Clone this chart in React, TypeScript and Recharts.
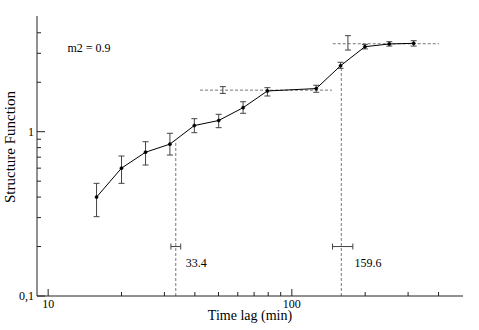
import React from 'react';
import {
  ComposedChart,
  Line,
  XAxis,
  YAxis,
  ErrorBar,
  Scatter,
  ReferenceLine,
  ReferenceDot,
} from 'recharts';

// ---- data ----
const lags = [15.8, 20, 25.1, 31.6, 39.8, 50.1, 63.1, 79.4, 125.9, 158.5, 199.5, 251.2, 316.2];
const sfValues = [0.4, 0.6, 0.75, 0.84, 1.09, 1.17, 1.4, 1.77, 1.83, 2.52, 3.29, 3.42, 3.45];
const sfLower = [0.304, 0.485, 0.627, 0.721, 0.986, 1.058, 1.294, 1.649, 1.737, 2.43, 3.19, 3.32, 3.32];
const sfUpper = [0.485, 0.711, 0.869, 0.978, 1.2, 1.276, 1.522, 1.853, 1.917, 2.645, 3.4, 3.53, 3.58];

const plateauLags = [52.1, 169.9];
const plateauValues = [1.79, 3.46];
const plateauLower = [1.71, 3.14];
const plateauUpper = [1.88, 3.84];

const plateauLineStart = [42.0, 147.2];
const plateauLineEnd = [146, 401.8];
const plateauLineLevel = [1.79, 3.43];

const breakLags = [33.4, 159.6];
const breakTops = [0.88, 2.49];
const breakLower = [31.9, 146.9];
const breakUpper = [35.0, 178];
const breakMarkerLevel = 0.2;
const breakLabels = ['33.4', '159.6'];
const breakLabelX = [36.7, 180.7];
const breakLabelY = 0.16;

const noteText = 'm2 = 0.9';
const noteX = 12.0;
const noteY = 3.22;

const xTicks = [10, 20, 30, 40, 50, 60, 70, 80, 90, 100, 200, 300, 400];
const xLabeledTicks = [10, 100];
const xTickLabels = ['10', '100'];
const yTicks = [0.1, 0.2, 0.3, 0.4, 0.5, 0.6, 0.7, 0.8, 0.9, 1, 2, 3, 4];
const yLabeledTicks = [0.1, 1];
const yTickLabels = ['0,1', '1'];
const xDomain = [9, 504];
const yDomain = [0.1, 5.06];

const xTitle = 'Time lag (min)';
const yTitle = 'Structure Function';

// ---- build series tables ----
const mainData = lags.map((x, i) => ({
  x,
  y: sfValues[i],
  err: [sfValues[i] - sfLower[i], sfUpper[i] - sfValues[i]],
}));
const plateauData = plateauLags.map((x, i) => ({
  x,
  y: plateauValues[i],
  err: [plateauValues[i] - plateauLower[i], plateauUpper[i] - plateauValues[i]],
}));
const breakData = breakLags.map((x, i) => ({
  x,
  y: breakMarkerLevel,
  ex: [x - breakLower[i], breakUpper[i] - x],
}));

const FONT = 'Liberation Serif';
const AXIS = '#222';
const ERR = '#444';
const DASH = '#777';

const txt = (size: number) => ({ fontFamily: FONT, fontSize: size, fill: '#000' });

const isMajorX = (v: number) => xLabeledTicks.indexOf(v) >= 0;
const isMajorY = (v: number) => yLabeledTicks.indexOf(v) >= 0;

const BottomTick = (props: any) => {
  const { x, y, payload } = props;
  const v = payload.value;
  const idx = xLabeledTicks.indexOf(v);
  return (
    <g>
      <line x1={x} x2={x} y1={y} y2={y - (idx >= 0 ? 7 : 4)} stroke={AXIS} />
      {idx >= 0 && (
        <text x={x} y={y + 11.5} textAnchor="middle" style={txt(12)}>
          {xTickLabels[idx]}
        </text>
      )}
    </g>
  );
};

const TopTick = (props: any) => {
  const { x, y, payload } = props;
  const v = payload.value;
  return <line x1={x} x2={x} y1={y} y2={y + (isMajorX(v) ? 7 : 4)} stroke={AXIS} />;
};

const LeftTick = (props: any) => {
  const { x, y, payload } = props;
  const v = payload.value;
  const idx = yLabeledTicks.indexOf(v);
  return (
    <g>
      <line x1={x} x2={x + (idx >= 0 ? 8 : 4)} y1={y} y2={y} stroke={AXIS} />
      {idx >= 0 && (
        <text x={x - 3} y={y} dy="0.35em" textAnchor="end" style={txt(12)}>
          {yTickLabels[idx]}
        </text>
      )}
    </g>
  );
};

const RightTick = (props: any) => {
  const { x, y, payload } = props;
  const v = payload.value;
  return <line x1={x} x2={x - (isMajorY(v) ? 8 : 4)} y1={y} y2={y} stroke={AXIS} />;
};

const Empty = () => <g />;

export default function App() {
  return (
    <div style={{ position: 'absolute', left: 0, top: 0, width: 479, height: 330, background: '#fff' }}>
      <ComposedChart width={479} height={330} margin={{ top: 16, right: 16, bottom: 0, left: 0 }}>
        <XAxis
          dataKey="x"
          type="number"
          scale="log"
          domain={xDomain}
          allowDataOverflow
          ticks={xTicks}
          interval={0}
          tickLine={false}
          tickSize={0}
          tickMargin={0}
          axisLine={{ stroke: AXIS }}
          height={34}
          tick={<BottomTick />}
          label={(p: any) => {
            const vb = p.viewBox || { x: 37, width: 426 };
            return (
              <text x={vb.x + vb.width / 2} y={320} textAnchor="middle" style={txt(14)}>
                {xTitle}
              </text>
            );
          }}
        />
        <XAxis
          xAxisId="top"
          orientation="top"
          type="number"
          scale="log"
          domain={xDomain}
          allowDataOverflow
          ticks={xTicks}
          interval={0}
          tickLine={false}
          tickSize={0}
          tickMargin={0}
          axisLine={{ stroke: AXIS }}
          height={0}
          tick={<TopTick />}
        />
        <YAxis
          dataKey="y"
          type="number"
          scale="log"
          domain={yDomain}
          allowDataOverflow
          ticks={yTicks}
          interval={0}
          tickLine={false}
          tickSize={0}
          tickMargin={0}
          axisLine={{ stroke: AXIS }}
          width={37}
          tick={<LeftTick />}
          label={(p: any) => (
            <text transform="translate(15,147) rotate(-90)" textAnchor="middle" style={txt(15)}>
              {yTitle}
            </text>
          )}
        />
        <YAxis
          yAxisId="right"
          orientation="right"
          type="number"
          scale="log"
          domain={yDomain}
          allowDataOverflow
          ticks={yTicks}
          interval={0}
          tickLine={false}
          tickSize={0}
          tickMargin={0}
          axisLine={{ stroke: AXIS }}
          width={0}
          tick={<RightTick />}
        />

        {plateauLineLevel.map((lv, i) => (
          <ReferenceLine
            key={'pl' + i}
            segment={[
              { x: plateauLineStart[i], y: lv },
              { x: plateauLineEnd[i], y: lv },
            ]}
            stroke={DASH}
            strokeDasharray="3 2"
            ifOverflow="visible"
          />
        ))}
        {breakLags.map((bx, i) => (
          <ReferenceLine
            key={'bl' + i}
            segment={[
              { x: bx, y: yDomain[0] },
              { x: bx, y: breakTops[i] },
            ]}
            stroke={DASH}
            strokeDasharray="3 2"
            ifOverflow="visible"
          />
        ))}

        <Scatter data={plateauData} shape={<Empty />} isAnimationActive={false}>
          <ErrorBar dataKey="err" direction="y" width={3} stroke={ERR} strokeWidth={1} />
        </Scatter>
        <Scatter data={breakData} shape={<Empty />} isAnimationActive={false}>
          <ErrorBar dataKey="ex" direction="x" width={3} stroke={ERR} strokeWidth={1} />
        </Scatter>

        <Line
          data={mainData}
          dataKey="y"
          type="linear"
          stroke="#000"
          strokeWidth={1}
          dot={{ r: 1.6, fill: '#000', stroke: '#000', strokeWidth: 0.5 }}
          isAnimationActive={false}
        >
          <ErrorBar dataKey="err" direction="y" width={3} stroke={ERR} strokeWidth={1} />
        </Line>

        {breakLabels.map((t, i) => (
          <ReferenceDot
            key={'lab' + i}
            x={breakLabelX[i]}
            y={breakLabelY}
            r={0}
            ifOverflow="visible"
            shape={(p: any) => (
              <text x={p.cx} y={p.cy} dy="0.35em" textAnchor="start" style={txt(12)}>
                {t}
              </text>
            )}
          />
        ))}
        <ReferenceDot
          x={noteX}
          y={noteY}
          r={0}
          ifOverflow="visible"
          shape={(p: any) => (
            <text x={p.cx} y={p.cy} dy="0.35em" textAnchor="start" style={txt(12)}>
              {noteText}
            </text>
          )}
        />
      </ComposedChart>
    </div>
  );
}
